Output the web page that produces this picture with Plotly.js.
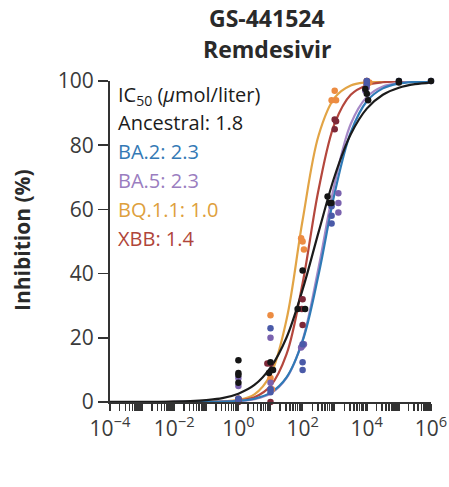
<!DOCTYPE html>
<html>
<head>
<meta charset="utf-8">
<script src="https://cdn.plot.ly/plotly-3.0.1.min.js"></script>
<style>html,body{margin:0;padding:0;background:#fff;}#chart{width:449px;height:487px;}</style>
</head>
<body>
<div id="chart"></div>
<script>
// ---- data ----
var titleLines = ["GS-441524", "Remdesivir"];
var variants = ["Ancestral", "BA.2", "BA.5", "BQ.1.1", "XBB"];
var ic50Labels = ["1.8", "2.3", "2.3", "1.0", "1.4"];

// fitted curve, sampled every half decade from 10^-4 to 10^6 (exponents)
var curveExp = [-4,-3.5,-3,-2.5,-2,-1.5,-1,-0.5,0,0.5,1,1.5,2,2.5,3,3.5,4,4.5,5,5.5,6];
var ancCurve  = [0.01,0.01,0.03,0.06,0.13,0.28,0.6,1.2,2.6,5.3,10.7,20.1,35.0,53.0,70.4,83.4,91.4,95.7,97.9,99.0,99.5];
var ba2Curve  = [0,0,0,0,0.01,0.02,0.05,0.13,0.37,1.0,2.9,7.7,19.0,39.8,65.1,84.0,93.7,97.7,99.2,99.7,99.9];
var ba5Curve  = [0,0,0,0,0.01,0.01,0.03,0.1,0.3,0.9,2.6,7.5,19.3,42.0,68.1,86.6,95.0,98.3,99.4,99.8,99.9];
var bq11Curve = [0,0,0,0,0.01,0.02,0.05,0.17,0.65,2.4,8.5,25.7,56.6,83.1,94.8,98.6,99.6,99.9,100,100,100];
var xbbCurve  = [0,0,0,0,0.01,0.01,0.04,0.14,0.47,1.5,5.0,14.9,37.0,66.3,86.8,95.7,98.7,99.6,99.9,100,100];

// measured points (concentration, % inhibition)
var ancX  = [1,1,1,1, 10,12,9, 100,70,120, 600,700,800, 9000,10000,11000, 100000,100000, 1000000];
var ancY  = [13,9,8.4,6, 12.4,10,9, 41,29,29, 64,62,62, 97.5,96,94, 100,99.5, 100];
var ba2X  = [1,1, 10,10,10, 100,100,100, 800,800,800, 10000,10000, 100000, 1000000];
var ba2Y  = [1,0.5, 23,4,3, 18,12.4,10, 58,55.6,61, 99,100, 100, 100];
var ba5X  = [1,1, 10,10,10, 90,110,100, 1300,1300,1300, 10000,9000];
var ba5Y  = [7.5,5, 20,6,4, 17,18,17.5, 65,62,59, 98,97];
var bq11X = [1,1, 10,10,11, 90,100,110, 1000,800,1100, 10000,12000];
var bq11Y = [1,0.5, 27,7.5,4, 51,50,47.5, 97,94,94, 100,99.5];
var xbbX  = [1,1, 10,8,10, 100,95,100, 1000,1000,1100, 10000,10000];
var xbbY  = [1,0, 12,12,0, 32,29,24, 88,85,87.5, 100,99];

// axis ticks
var yTickVals = [0,20,40,60,80,100];
var xTickExp = [-4,-2,0,2,4,6];
var xTickText = ["10<sup>−4</sup>","10<sup>−2</sup>","10<sup>0</sup>","10<sup>2</sup>","10<sup>4</sup>","10<sup>6</sup>"];

// ---- styling ----
var lineColors  = ["#1b1b1b", "#2f7ab6", "#a588c6", "#e2a445", "#b4473d"];
var pointColors = ["#151515", "#4a5aa8", "#7a62ae", "#ec8c42", "#7d2838"];
var textColors  = ["#1b1b1b", "#3479b5", "#9a7dc0", "#dea03c", "#b0453a"];
var FONT = "Open Sans, sans-serif";

var curveX = curveExp.map(function(e){ return Math.pow(10, e); });
var curves = [ancCurve, ba2Curve, ba5Curve, bq11Curve, xbbCurve];
var ptsX = [ancX, ba2X, ba5X, bq11X, xbbX];
var ptsY = [ancY, ba2Y, ba5Y, bq11Y, xbbY];

// every decade and its 2..9 subdivisions carry a tick; only even decades are labelled
var xTickVals = [], xTickLabels = [];
for (var d = -4; d <= 6; d++) {
  for (var m = 1; m <= 9; m++) {
    if (d === 6 && m > 1) break;
    xTickVals.push(m * Math.pow(10, d));
    var idx = xTickExp.indexOf(d);
    xTickLabels.push(m === 1 && idx >= 0 ? xTickText[idx] : "");
  }
}

var traces = [];
var drawOrder = [3, 4, 2, 1, 0];
drawOrder.forEach(function(i){
  traces.push({
    x: curveX, y: curves[i], type: "scatter", mode: "lines",
    line: {color: lineColors[i], width: 2.2, shape: "spline", smoothing: 1},
    hoverinfo: "skip", showlegend: false, cliponaxis: false
  });
});
drawOrder.forEach(function(i){
  traces.push({
    x: ptsX[i], y: ptsY[i], type: "scatter", mode: "markers",
    marker: {color: pointColors[i], size: 6.5},
    name: variants[i], showlegend: false, cliponaxis: false
  });
});

var L = 110, R = 18, T = 81, B = 85, H = 487, W = 449;
function py(p){ return (H - B - p) / (H - T - B); }
function px(p){ return (p - L) / (W - L - R); }

var annotations = [];
[18, 49].forEach(function(yc, k){
  annotations.push({
    text: "<b>" + titleLines[k] + "</b>", xref: "paper", yref: "paper",
    x: px(267), y: py(yc), xanchor: "center", yanchor: "middle", showarrow: false,
    font: {family: FONT, size: 23, color: "#2a2a2a"}
  });
});
annotations.push({
  text: "IC<sub>50</sub> (<i>μ</i>mol/liter)", xref: "paper", yref: "paper",
  x: px(116), y: py(95), xanchor: "left", yanchor: "middle", showarrow: false,
  font: {family: FONT, size: 20, color: "#1b1b1b"}
});
var rowY = [122, 151, 180, 209, 238];
for (var i = 0; i < variants.length; i++) {
  annotations.push({
    text: variants[i] + ": " + ic50Labels[i], xref: "paper", yref: "paper",
    x: px(116), y: py(rowY[i]), xanchor: "left", yanchor: "middle", showarrow: false,
    font: {family: FONT, size: 20, color: textColors[i]}
  });
}
annotations.push({
  text: "<b>Inhibition (%)</b>", xref: "paper", yref: "paper",
  x: px(22), y: py(240), xanchor: "center", yanchor: "middle", textangle: -90,
  showarrow: false, font: {family: FONT, size: 21, color: "#2a2a2a"}
});

var layout = {
  width: W, height: H,
  margin: {l: L, r: R, t: T, b: B, pad: 0},
  paper_bgcolor: "#fff", plot_bgcolor: "#fff",
  showlegend: false,
  xaxis: {
    type: "log", range: [-4, 6],
    tickmode: "array", tickvals: xTickVals, ticktext: xTickLabels, tickangle: 0,
    ticks: "outside", ticklen: 7, tickwidth: 1.5, tickcolor: "#333",
    showline: true, linecolor: "#333", linewidth: 2,
    showgrid: false, zeroline: false,
    tickfont: {family: FONT, size: 21, color: "#3a3a3a"},
    fixedrange: true
  },
  yaxis: {
    range: [0, 100], tickmode: "array", tickvals: yTickVals,
    ticks: "outside", ticklen: 10, tickwidth: 1.5, tickcolor: "#333",
    showline: true, linecolor: "#333", linewidth: 2,
    showgrid: false, zeroline: false,
    tickfont: {family: FONT, size: 21, color: "#3a3a3a"},
    fixedrange: true
  },
  annotations: annotations
};

Plotly.newPlot("chart", traces, layout, {displayModeBar: false, staticPlot: true});
</script>
</body>
</html>
